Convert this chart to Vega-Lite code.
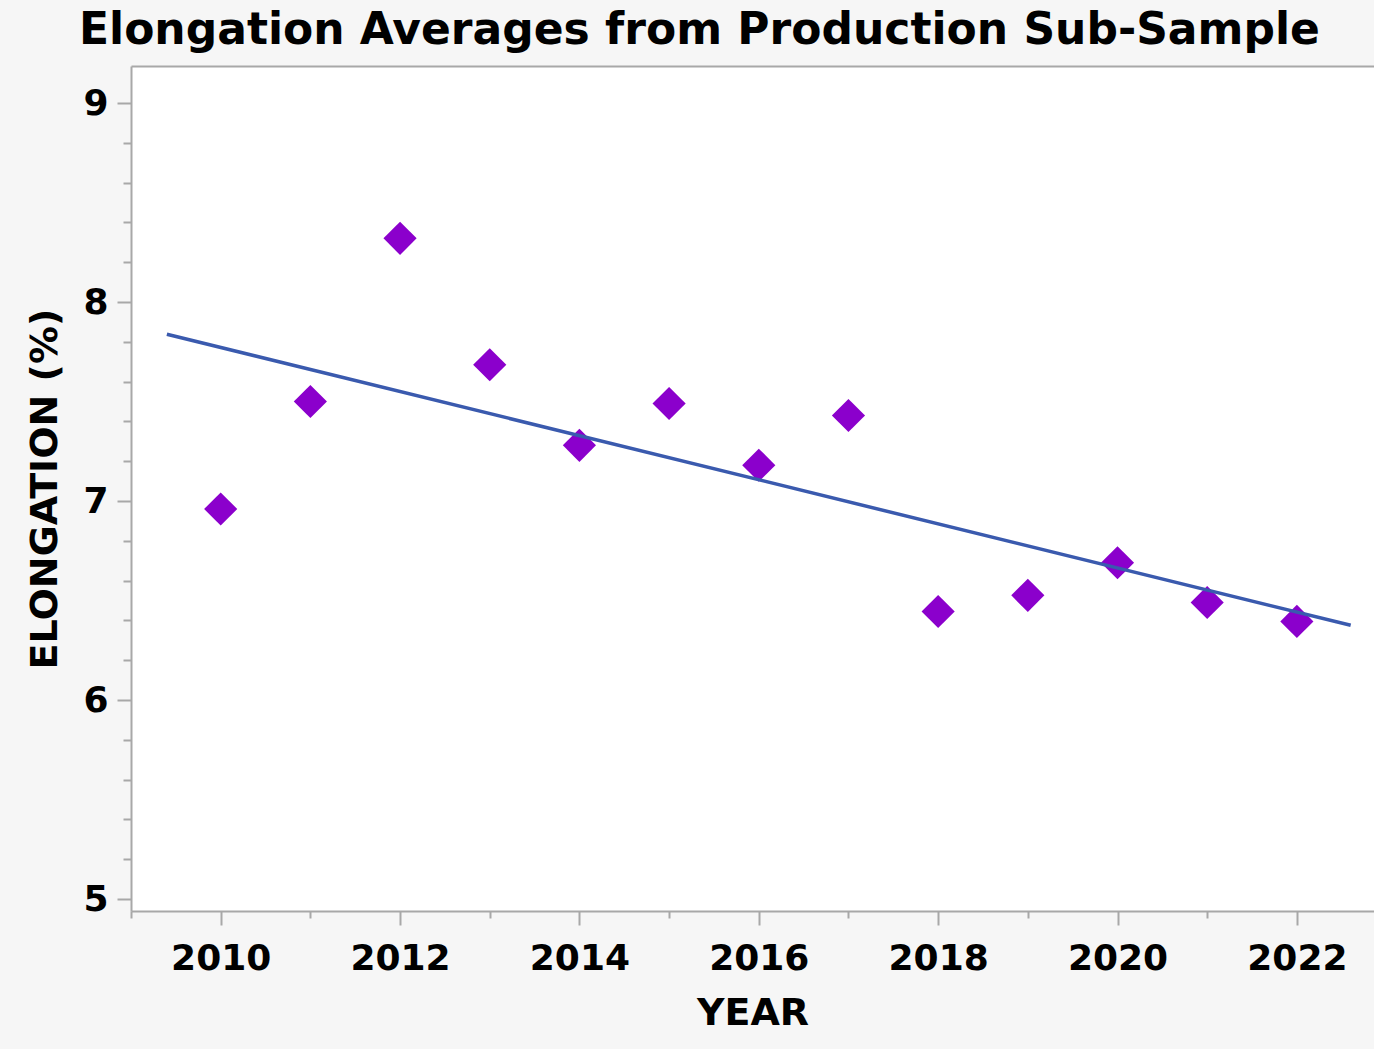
{
  "$schema": "https://vega.github.io/schema/vega-lite/v6.json",
  "width": 1243,
  "height": 845,
  "autosize": {"type": "none"},
  "padding": {"left": 131, "top": 66, "right": 0, "bottom": 138},
  "background": "#f6f6f6",
  "config": {
    "view": {"stroke": null, "fill": "white"},
    "font": "DejaVu Sans"
  },
  "title": {
    "text": "Elongation Averages from Production Sub-Sample",
    "anchor": "start",
    "frame": "group",
    "dx": -52,
    "dy": 43,
    "offset": 21,
    "baseline": "alphabetic",
    "font": "DejaVu Sans",
    "fontSize": 44,
    "fontWeight": "bold",
    "color": "black"
  },
  "data": {
    "values": [
      {"year": 2010, "elongation": 6.96},
      {"year": 2011, "elongation": 7.50},
      {"year": 2012, "elongation": 8.32},
      {"year": 2013, "elongation": 7.685},
      {"year": 2014, "elongation": 7.28},
      {"year": 2015, "elongation": 7.49},
      {"year": 2016, "elongation": 7.18},
      {"year": 2017, "elongation": 7.43},
      {"year": 2018, "elongation": 6.445},
      {"year": 2019, "elongation": 6.526},
      {"year": 2020, "elongation": 6.69},
      {"year": 2021, "elongation": 6.49},
      {"year": 2022, "elongation": 6.395}
    ]
  },
  "layer": [
    {
      "mark": {"type": "point", "shape": "diamond", "filled": true, "size": 1100, "color": "#8B00CC", "opacity": 1},
      "encoding": {
        "x": {
          "field": "year", "type": "quantitative",
          "scale": {"domain": [2009, 2022.86], "nice": false, "zero": false},
          "axis": {
            "orient": "bottom",
            "title": "YEAR",
            "values": [2009, 2010, 2011, 2012, 2013, 2014, 2015, 2016, 2017, 2018, 2019, 2020, 2021, 2022],
            "labelExpr": "datum.value % 2 === 0 ? format(datum.value, 'd') : ''",
            "labelOverlap": false,
            "labelFont": "DejaVu Sans",
            "labelFontSize": 36,
            "labelFontWeight": "bold",
            "labelColor": "black",
            "labelPadding": 16,
            "labelFlush": false,
            "tickSize": {"condition": {"test": "datum.value % 2 !== 0", "value": 7}, "value": 14},
            "tickColor": "#a8a8a8",
            "tickWidth": 2,
            "domainColor": "#a8a8a8",
            "domainWidth": 2,
            "grid": false,
            "titleFont": "DejaVu Sans",
            "titleFontSize": 38,
            "titleFontWeight": "bold",
            "titleColor": "black",
            "titlePadding": 18
          }
        },
        "y": {
          "field": "elongation", "type": "quantitative",
          "scale": {"domain": [4.94, 9.186], "nice": false, "zero": false},
          "axis": {
            "orient": "left",
            "title": "ELONGATION (%)",
            "values": [5, 5.2, 5.4, 5.6, 5.8, 6, 6.2, 6.4, 6.6, 6.8, 7, 7.2, 7.4, 7.6, 7.8, 8, 8.2, 8.4, 8.6, 8.8, 9],
            "labelExpr": "datum.value % 1 === 0 ? format(datum.value, 'd') : ''",
            "labelOverlap": false,
            "labelFont": "DejaVu Sans",
            "labelFontSize": 36,
            "labelFontWeight": "bold",
            "labelColor": "black",
            "labelPadding": 9,
            "labelFlush": false,
            "tickSize": {"condition": {"test": "datum.value % 1 !== 0", "value": 8}, "value": 14},
            "tickColor": "#a8a8a8",
            "tickWidth": 2,
            "domainColor": "#a8a8a8",
            "domainWidth": 2,
            "grid": false,
            "titleFont": "DejaVu Sans",
            "titleFontSize": 38,
            "titleFontWeight": "bold",
            "titleColor": "black",
            "titlePadding": 18
          }
        }
      }
    },
    {
      "transform": [{"regression": "elongation", "on": "year", "extent": [2009.4, 2022.6]}],
      "mark": {"type": "line", "color": "#3a5aae", "strokeWidth": 3.5},
      "encoding": {
        "x": {
          "field": "year", "type": "quantitative",
          "axis": {"orient": "top", "title": null, "labels": false, "ticks": false, "grid": false, "domain": true, "domainColor": "#a8a8a8", "domainWidth": 2}
        },
        "y": {"field": "elongation", "type": "quantitative", "axis": null}
      }
    }
  ],
  "resolve": {"axis": {"x": "independent", "y": "independent"}}
}
